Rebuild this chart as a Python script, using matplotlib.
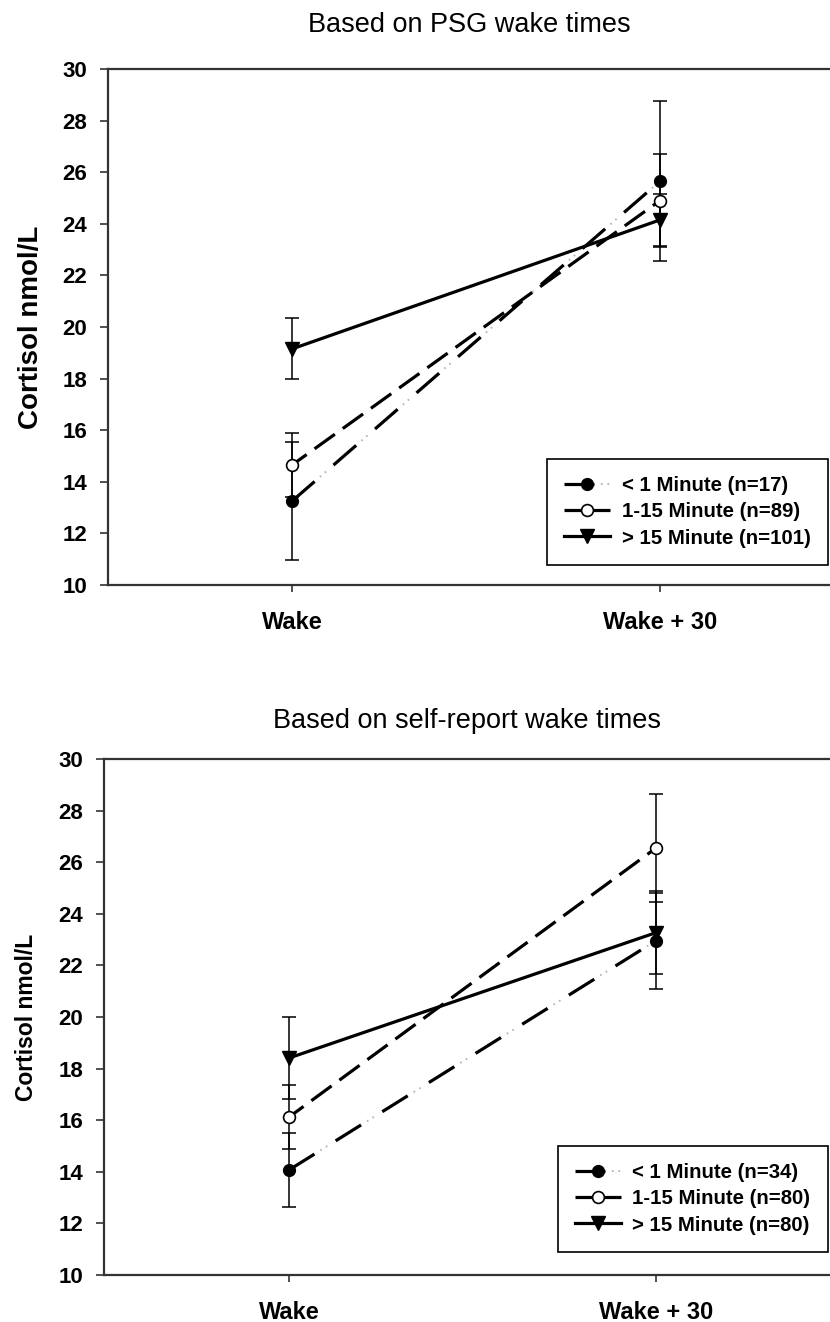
import numpy as np
import matplotlib
matplotlib.use('Agg')
import matplotlib.pyplot as plt
from matplotlib.legend_handler import HandlerTuple

plt.rcParams['font.family'] = ['Liberation Sans', 'DejaVu Sans']
plt.rcParams['lines.scale_dashes'] = False

# data (cortisol, nmol/L, mean +- error)
timepoints = ['Wake', 'Wake + 30']
groups = ['< 1 Minute', '1-15 Minute', '> 15 Minute']

psg_n = [17, 89, 101]
psg_mean = [[13.25, 25.65], [14.65, 24.90], [19.15, 24.15]]
psg_err = [[2.30, 3.10], [1.23, 1.80], [1.18, 1.00]]

self_n = [34, 80, 80]
self_mean = [[14.07, 22.96], [16.12, 26.55], [18.41, 23.27]]
self_err = [[1.45, 1.86], [1.25, 2.10], [1.59, 1.60]]

SPINE = '#333333'


def draw_panel(ax, means, errs, ns, title, title_pad, ylab_size, xlim, legend_anchor):
    x = np.arange(len(timepoints))
    for i in range(len(groups)):
        ax.errorbar(x, means[i], yerr=errs[i], fmt='none', ecolor='black',
                    elinewidth=1.1, capsize=5, capthick=1.1, zorder=2)
    # < 1 minute: dash with faint double dot
    h0, = ax.plot(x, means[0], color='black', lw=2.3, ls=(0, (21.6, 18)),
                  marker='o', ms=8.5, mfc='black', mec='black', zorder=4)
    h0d, = ax.plot(x, means[0], color='#b5b5b5', lw=1.4,
                   ls=(13.0, (1.2, 3.5, 1.2, 33.7)), zorder=3)
    # 1-15 minute: long dashes, open circles
    h1, = ax.plot(x, means[1], color='black', lw=2.3, ls=(5, (18, 7)),
                  marker='o', ms=8.5, mfc='white', mec='black', mew=1.2, zorder=4)
    # > 15 minute: solid, filled down triangles
    h2, = ax.plot(x, means[2], color='black', lw=2.3, ls='-',
                  marker='v', ms=9.5, mfc='black', mec='black', zorder=4)
    handles = [(h0, h0d), h1, h2]
    labels = ['%s (n=%d)' % (g, n) for g, n in zip(groups, ns)]

    ax.set_xlim(*xlim)
    ax.set_ylim(10, 30)
    ax.set_yticks(np.arange(10, 31, 2))
    ax.set_xticks(x)
    ax.set_xticklabels(timepoints, fontweight='bold', fontsize=17)
    for lab in ax.get_yticklabels():
        lab.set_fontweight('bold')
        lab.set_fontsize(16)
    ax.tick_params(axis='y', direction='out', length=5.8, width=1.2, color=SPINE, pad=9)
    ax.tick_params(axis='x', direction='out', length=5, width=1.2, color=SPINE, pad=14)
    for s in ['left', 'bottom', 'top']:
        ax.spines[s].set_color(SPINE)
        ax.spines[s].set_linewidth(1.6)
    ax.spines['right'].set_visible(False)

    ax.set_ylabel('Cortisol nmol/L', fontweight='bold', fontsize=ylab_size)
    ax.set_title(title, fontsize=19.5, pad=title_pad)

    leg = ax.legend(handles, labels, loc='lower right', bbox_to_anchor=legend_anchor,
                    borderaxespad=0, fancybox=False, framealpha=1, edgecolor='black',
                    prop={'weight': 'bold', 'size': 14.7}, handlelength=2.25,
                    handletextpad=0.55, labelspacing=0.35, borderpad=0.85,
                    handler_map={tuple: HandlerTuple(ndivide=1)})
    leg.get_frame().set_linewidth(1.2)
    return ax


fig = plt.figure(figsize=(8.3, 13.22), dpi=100)
ax_top = fig.add_axes([108 / 830, 1 - 585 / 1322, 722 / 830, 516 / 1322])
ax_bot = fig.add_axes([104 / 830, 1 - 1275 / 1322, 726 / 830, 516 / 1322])

draw_panel(ax_top, psg_mean, psg_err, psg_n, 'Based on PSG wake times', 26.6, 20,
           (-0.5, 1.462), (0.997, 0.0388))
ax_top.yaxis.set_label_coords((44 - 108) / 722, 0.5)

draw_panel(ax_bot, self_mean, self_err, self_n, 'Based on self-report wake times', 22.3, 16.5,
           (-0.504, 1.474), (0.997, 0.0446))
ax_bot.yaxis.set_label_coords((38 - 104) / 726, 0.5)

fig.savefig('out.png', dpi=100)
